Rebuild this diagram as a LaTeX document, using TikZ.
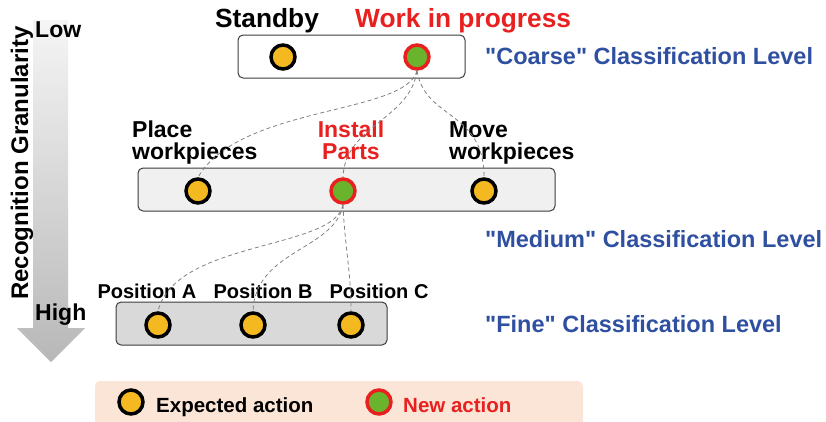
\documentclass[tikz,border=0pt]{standalone}
\usepackage{fontspec}
\setmainfont{Liberation Sans}[Ligatures=TeXOff]
\definecolor{yelc}{RGB}{244,185,32}
\definecolor{grnc}{RGB}{106,180,45}
\definecolor{redc}{RGB}{232,32,31}
\definecolor{bluc}{RGB}{47,80,160}
\definecolor{peach}{RGB}{251,229,214}
\definecolor{boxline}{RGB}{60,60,60}
\begin{document}
\begin{tikzpicture}[x=1pt,y=-1pt,
  expected/.style={circle,draw=black,line width=3.5pt,fill=yelc,minimum size=24pt,inner sep=0pt},
  newact/.style={circle,draw=redc,line width=3.5pt,fill=grnc,minimum size=24pt,inner sep=0pt},
  levelbox/.style={draw=boxline,line width=1pt,rounded corners=5pt},
  lbl/.style={font=\bfseries\fontsize{23}{22}\selectfont,inner sep=0pt},
  toplbl/.style={font=\bfseries\fontsize{26.3}{26}\selectfont,inner sep=0pt},
  poslbl/.style={font=\bfseries\fontsize{20}{20}\selectfont,inner sep=0pt},
  levellbl/.style={font=\bfseries\fontsize{23.5}{23.5}\selectfont,text=bluc,inner sep=0pt,anchor=base west},
  conn/.style={draw=gray,line width=0.8pt,dash pattern=on 4pt off 3pt}]
\useasboundingbox (0,0) rectangle (826,421);

% granularity arrow
\shade[top color=white!96!black,bottom color=black!28]
  (33,20) -- (68,20) -- (68,328) -- (85,328) -- (51,362) -- (17,328) -- (33,328) -- cycle;
\node[inner sep=0pt,font=\bfseries\fontsize{23}{23}\selectfont,anchor=base west] (low) at (35,37) {Low};
\node[inner sep=0pt,font=\bfseries\fontsize{23}{23}\selectfont,anchor=base west] (high) at (35,320) {High};
\node[inner sep=0pt,font=\bfseries\fontsize{24}{24}\selectfont,rotate=90,anchor=base] (gran) at (28,163) {Recognition Granularity};

% coarse level
\draw[levelbox,fill=white] (238,35) rectangle (465,78);
\node[expected] (c1) at (283,57) {};
\node[newact] (c2) at (417,57) {};
\node[toplbl,anchor=base] (standby) at (267,27) {Standby};
\node[toplbl,anchor=base west,text=redc] (wip) at (355,27) {Work in progress};
\node[levellbl] (coarse) at (485,64) {"Coarse" Classification Level};

% medium level
\draw[levelbox,fill=black!6] (138,168) rectangle (555,211);
\node[expected] (m1) at (198,191) {};
\node[newact] (m2) at (343,191) {};
\node[expected] (m3) at (484,191) {};
\node[lbl,anchor=base west,align=left] (place) at (132,159) {Place\\workpieces};
\node[lbl,anchor=base,text=redc,align=center] (install) at (351,159) {Install\\Parts};
\node[lbl,anchor=base west,align=left] (move) at (449,159) {Move\\workpieces};
\node[levellbl] (medium) at (485,247) {"Medium" Classification Level};

% fine level
\draw[levelbox,fill=black!15] (116,302) rectangle (387,345);
\node[expected] (f1) at (158,325) {};
\node[expected] (f2) at (253,325) {};
\node[expected] (f3) at (351,325) {};
\node[poslbl,anchor=base] (pa) at (147,298) {Position A};
\node[poslbl,anchor=base] (pb) at (263,298) {Position B};
\node[poslbl,anchor=base] (pc) at (379,298) {Position C};
\node[levellbl] (fine) at (485,332) {"Fine" Classification Level};

% connectors
\draw[conn] (c2.south) .. controls (405,115) and (240,105) .. (m1.north);
\draw[conn] (c2.south) .. controls (410,120) and (345,125) .. (m2.north);
\draw[conn] (c2.south) .. controls (425,120) and (484,110) .. (m3.north);
\draw[conn] (m2.south) .. controls (335,250) and (175,240) .. (f1.north);
\draw[conn] (m2.south) .. controls (335,250) and (255,250) .. (f2.north);
\draw[conn] (m2.south) .. controls (345,250) and (351,270) .. (f3.north);

% legend
\fill[peach,rounded corners=5pt] (95,430) -- (95,381) -- (583,381) -- (583,430);
\fill[peach] (95,395) rectangle (583,421);
\node[expected] (l1) at (131,402) {};
\node[inner sep=0pt,font=\bfseries\fontsize{20.5}{20.5}\selectfont,anchor=base west] (lt1) at (156,412) {Expected action};
\node[newact] (l2) at (379,402) {};
\node[inner sep=0pt,font=\bfseries\fontsize{20.5}{20.5}\selectfont,anchor=base west,text=redc] (lt2) at (403,412) {New action};
\end{tikzpicture}
\end{document}
